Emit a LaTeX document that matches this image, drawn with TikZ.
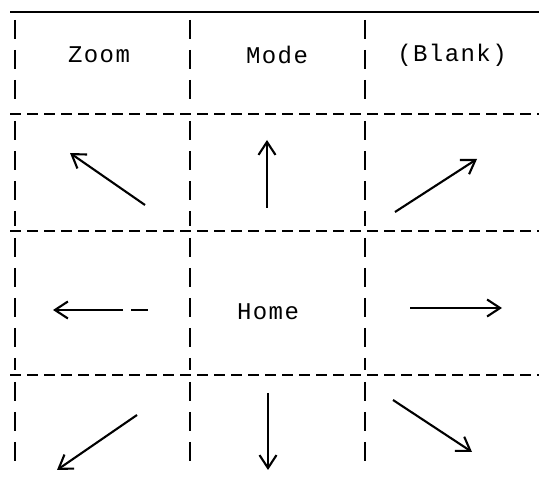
\documentclass[tikz,border=0pt]{standalone}
\usepackage{fontspec}
\setmonofont[LetterSpace=6]{Liberation Mono}
\usetikzlibrary{arrows.meta}
\begin{document}
\begin{tikzpicture}[x=1pt,y=-1pt,
  gridh/.style={line width=1.8pt,dash pattern=on 11pt off 6pt},
  gridv/.style={line width=1.8pt,dash pattern=on 19pt off 11pt},
  keyarrow/.style={line width=2.1pt,-{Straight Barb[length=13pt,width=17pt,line width=2.1pt]}},
  label/.style={font=\ttfamily\fontsize{24}{24}\selectfont,inner sep=0pt}]
\useasboundingbox (0,0) rectangle (539,489);

% frame: solid top, dashed row separators
\draw[line width=1.8pt] (10,12) -- (539,12);
\foreach \y in {114,231,375}
  \draw[gridh] (10,\y) -- (539,\y);

% column separators, one dashed run per row
\foreach \x in {15,190,365}{
  \draw[gridv] (\x,20) -- (\x,110);
  \draw[gridv] (\x,121) -- (\x,226);
  \draw[gridv] (\x,238) -- (\x,370);
  \draw[gridv] (\x,382) -- (\x,470);
}

% key labels
\node[label] (zoom)  at (99,55) {Zoom};
\node[label] (mode)  at (277,55) {Mode};
\node[label] (blank) at (452,55) {(Blank)};
\node[label] (home)  at (268,312) {Home};

% direction arrows
\coordinate (nwS) at (145,205); \coordinate (nwE) at (70,153);
\coordinate (nS)  at (267,208); \coordinate (nE)  at (267,140);
\coordinate (neS) at (395,212); \coordinate (neE) at (477,159);
\coordinate (wS)  at (123,310); \coordinate (wE)  at (53,310);
\coordinate (wT1) at (131,310); \coordinate (wT2) at (148,310);
\coordinate (eS)  at (410,308); \coordinate (eE)  at (502,308);
\coordinate (swS) at (137,415); \coordinate (swE) at (57,470);
\coordinate (sS)  at (268,393); \coordinate (sE)  at (268,470);
\coordinate (seS) at (393,400); \coordinate (seE) at (472,452);

\draw[keyarrow] (nwS) -- (nwE);
\draw[keyarrow] (nS) -- (nE);
\draw[keyarrow] (neS) -- (neE);
\draw[keyarrow] (wS) -- (wE);
\draw[line width=2.1pt] (wT1) -- (wT2);
\draw[keyarrow] (eS) -- (eE);
\draw[keyarrow] (swS) -- (swE);
\draw[keyarrow] (sS) -- (sE);
\draw[keyarrow] (seS) -- (seE);
\end{tikzpicture}
\end{document}
